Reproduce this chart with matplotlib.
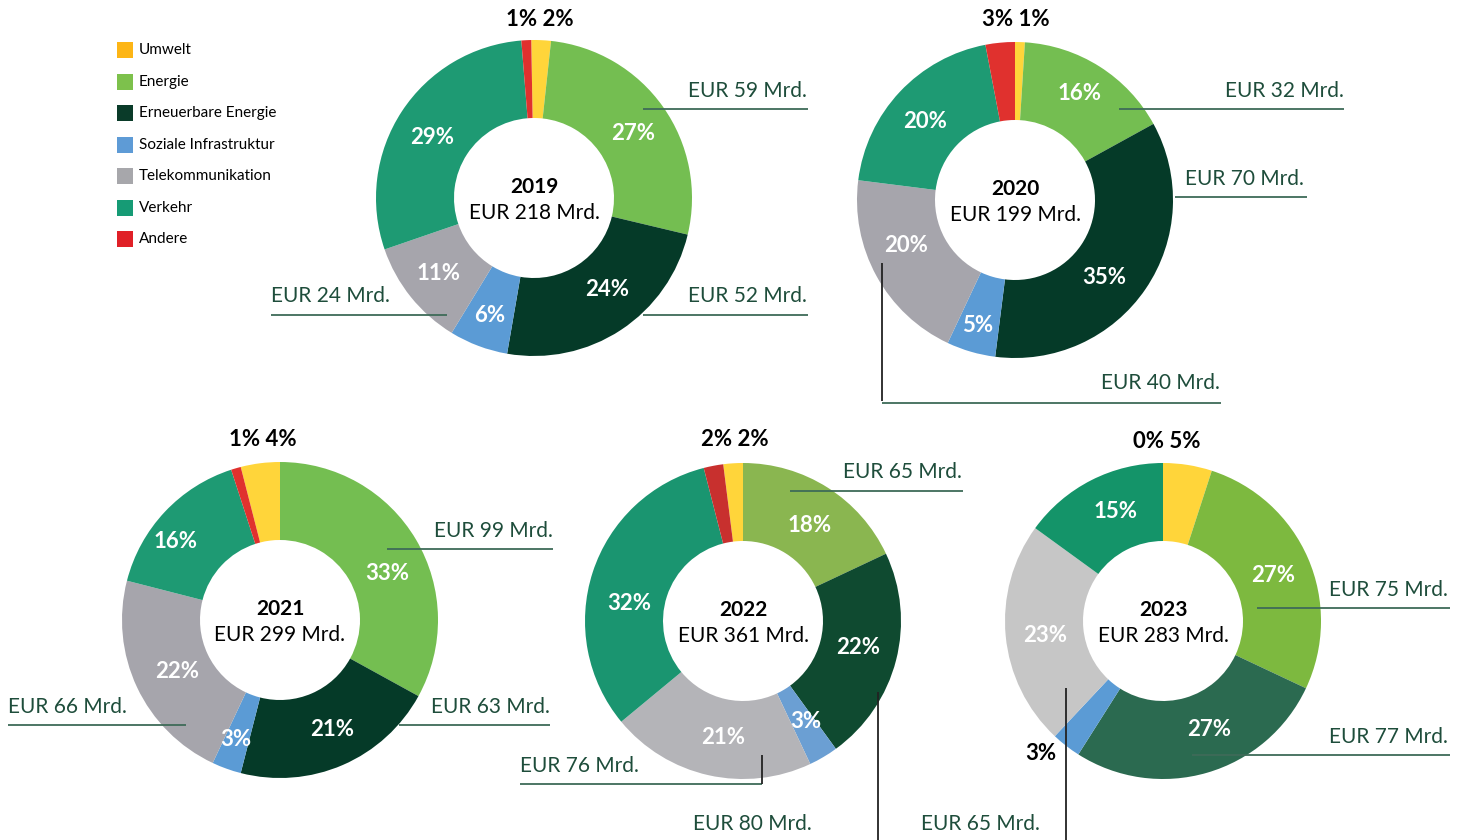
import matplotlib
matplotlib.use('Agg')
import matplotlib.pyplot as plt
from matplotlib.patches import Rectangle

plt.rcParams['font.family'] = ['Lato', 'DejaVu Sans']

W, H = 1467, 840

# data
categories = ['Umwelt', 'Energie', 'Erneuerbare Energie', 'Soziale Infrastruktur',
              'Telekommunikation', 'Verkehr', 'Andere']
years = ['2019', '2020', '2021', '2022', '2023']
totals = [218, 199, 299, 361, 283]

share_2019 = [2, 27, 24, 6, 11, 29, 1]
share_2020 = [1, 16, 35, 5, 20, 20, 3]
share_2021 = [4, 33, 21, 3, 22, 16, 1]
share_2022 = [2, 18, 22, 3, 21, 32, 2]
share_2023 = [5, 27, 27, 3, 23, 15, 0]
shares = [share_2019, share_2020, share_2021, share_2022, share_2023]

legend_colors = ['#FDB515', '#7DC14C', '#0A3B29', '#5E9BD6', '#A7A7AB', '#169B75', '#E02027']
base_colors = ['#FFD53A', '#74BE51', '#053A28', '#5B9BD5', '#A6A5AC', '#1E9A73', '#E0312E']
colors_2022 = ['#FFD53A', '#8AB650', '#0F4A30', '#6B9FD3', '#B4B4B8', '#1A9570', '#C8302E']
colors_2023 = ['#FFD53A', '#7DB93F', '#2B6A50', '#5B9BD5', '#C6C6C6', '#149469', '#E0312E']
year_colors = [base_colors, base_colors, base_colors, colors_2022, colors_2023]

# layout (pixel coords, y from top)
centers = [(534, 198), (1015, 200), (280, 620), (743, 621), (1163, 621)]
# 2021 and 2022 put Energie at 12 o'clock, Umwelt just left of it
start_angles = [91, 90, 90 + 3.6 * share_2021[0], 90 + 3.6 * share_2022[0], 90]
R = 158
RING = 78

def Y(py):
    return H - py

fig = plt.figure(figsize=(W / 100, H / 100), dpi=100)
ax = fig.add_axes([0, 0, 1, 1])

for i, yr in enumerate(years):
    cx, cy = centers[i]
    ax.pie(shares[i], colors=year_colors[i], startangle=start_angles[i], counterclock=False,
           radius=R, center=(cx, Y(cy)),
           wedgeprops=dict(width=RING, edgecolor='none', linewidth=0))
    ax.text(cx, Y(cy - 11), yr, ha='center', va='center', fontsize=15,
            fontweight='bold', color='black')
    ax.text(cx, Y(cy + 15), 'EUR %d Mrd.' % totals[i], ha='center', va='center',
            fontsize=15, color='black')

# percentage labels inside the rings: (year index, category index, x, y)
inner_labels = [
    (0, 5, 432, 137), (0, 1, 633, 133), (0, 2, 607, 290), (0, 3, 490, 316), (0, 4, 439, 274),
    (1, 1, 1080, 93), (1, 5, 925, 122), (1, 4, 906, 245), (1, 2, 1104, 278), (1, 3, 978, 326),
    (2, 5, 176, 541), (2, 1, 387, 573), (2, 4, 177, 671), (2, 2, 332, 729), (2, 3, 236, 739),
    (3, 1, 810, 525), (3, 5, 629, 603), (3, 2, 858, 647), (3, 4, 723, 737), (3, 3, 806, 722),
    (4, 5, 1116, 511), (4, 1, 1273, 576), (4, 4, 1045, 636), (4, 2, 1209, 729),
]
for yi, ci, x, y in inner_labels:
    ax.text(x, Y(y), '%d%%' % shares[yi][ci], ha='center', va='center',
            fontsize=16, fontweight='bold', color='white')

# small slices named above the ring (Andere, Umwelt)
top_labels = [(540, 20), (1016, 19), (263, 440), (735, 440), (1167, 442)]
for i, (x, y) in enumerate(top_labels):
    ax.text(x, Y(y), '%d%% %d%%' % (shares[i][6], shares[i][0]), ha='center',
            va='center', fontsize=16, fontweight='bold', color='black')
ax.text(1041, Y(753), '%d%%' % share_2023[3], ha='center', va='center',
        fontsize=16, fontweight='bold', color='black')

# EUR amount call-outs
amount_labels = [
    ('EUR 59 Mrd.', 807, 91, 'right'), ('EUR 52 Mrd.', 807, 296, 'right'),
    ('EUR 24 Mrd.', 271, 296, 'left'),
    ('EUR 32 Mrd.', 1344, 91, 'right'), ('EUR 70 Mrd.', 1185, 179, 'left'),
    ('EUR 40 Mrd.', 1220, 383, 'right'),
    ('EUR 99 Mrd.', 553, 531, 'right'), ('EUR 63 Mrd.', 550, 707, 'right'),
    ('EUR 66 Mrd.', 8, 707, 'left'),
    ('EUR 65 Mrd.', 962, 472, 'right'), ('EUR 76 Mrd.', 520, 766, 'left'),
    ('EUR 80 Mrd.', 812, 824, 'right'),
    ('EUR 75 Mrd.', 1329, 590, 'left'), ('EUR 77 Mrd.', 1329, 737, 'left'),
    ('EUR 65 Mrd.', 1040, 824, 'right'),
]
for txt, x, y, ha in amount_labels:
    ax.text(x, Y(y), txt, ha=ha, va='center', fontsize=15, color='#1E4D3B')

leader_h = [
    (643, 808, 109), (643, 808, 315), (271, 447, 315),
    (1119, 1344, 109), (1175, 1307, 197), (882, 1221, 403),
    (387, 553, 549), (399, 550, 725), (8, 186, 725),
    (790, 963, 491), (520, 762, 784),
    (1257, 1450, 608), (1192, 1450, 755),
]
for x0, x1, y in leader_h:
    ax.plot([x0, x1], [Y(y), Y(y)], color='#3E6B58', lw=1.3, solid_capstyle='butt')

leader_v = [(882, 263, 401), (762, 755, 784), (878, 692, 840), (1066, 688, 840)]
for x, y0, y1 in leader_v:
    ax.plot([x, x], [Y(y0), Y(y1)], color='#222222', lw=1.3, solid_capstyle='butt')

# legend
legend_y = [50, 82, 113, 145, 176, 208, 239]
for name, col, y in zip(categories, legend_colors, legend_y):
    ax.add_patch(Rectangle((117, Y(y) - 8), 16, 16, facecolor=col, edgecolor='none'))
    ax.text(139, Y(y), name, ha='left', va='center', fontsize=11, color='black')

ax.set_xlim(0, W)
ax.set_ylim(0, H)
ax.set_aspect('auto')
ax.axis('off')

fig.savefig('out.png', dpi=100, facecolor='white')
